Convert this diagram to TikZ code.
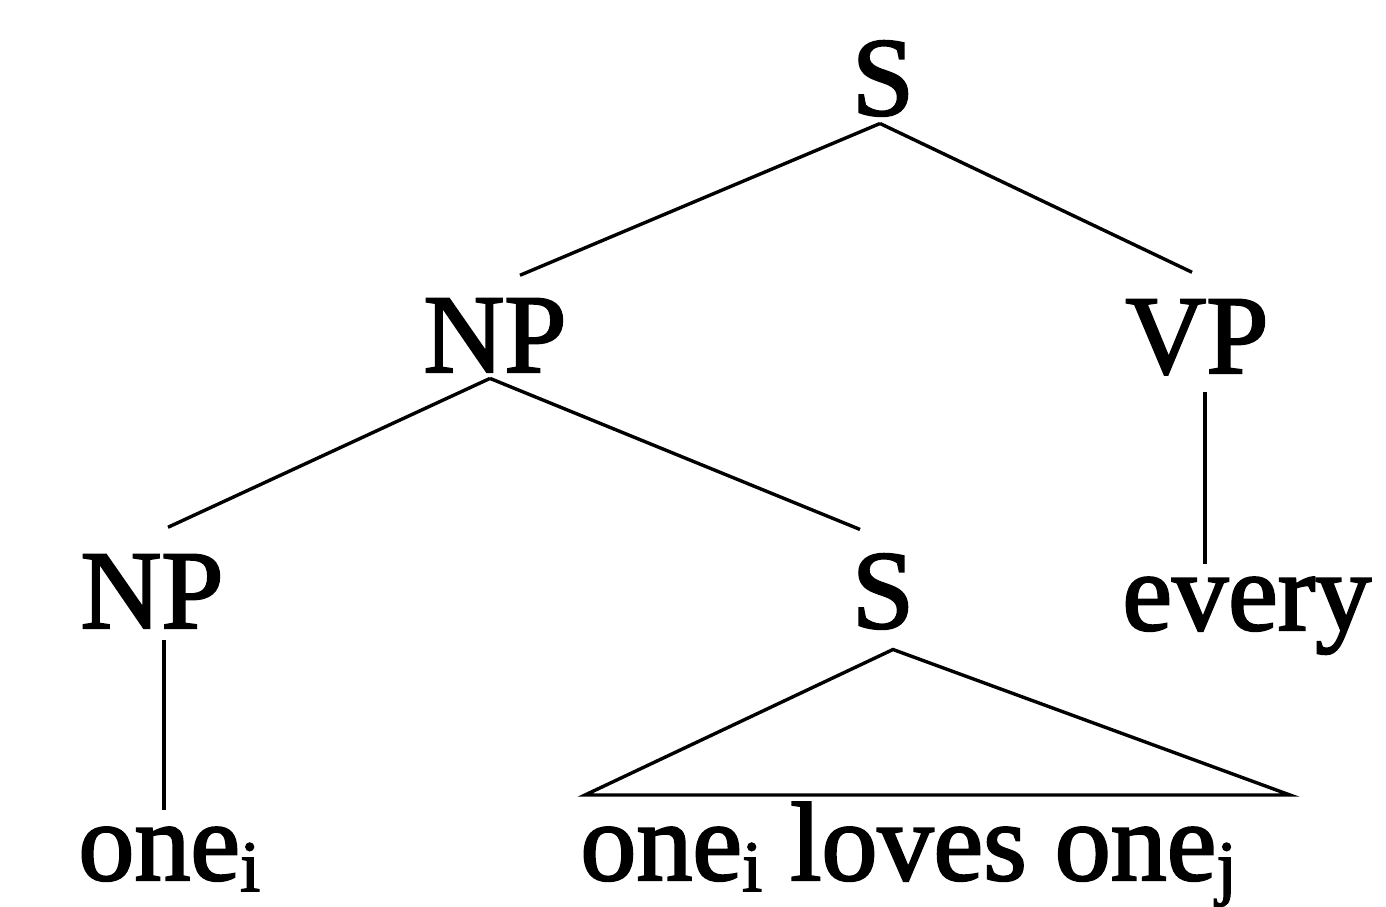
\documentclass[tikz,border=0pt]{standalone}
\usepackage{fontspec}
\setmainfont{Liberation Serif}[FakeBold=2]
\usetikzlibrary{calc}
\tikzset{
    cat/.style={inner sep=0pt, anchor=base, font=\fontsize{56}{60}\selectfont},
    word/.style={inner sep=0pt, anchor=base west, font=\fontsize{56}{60}\selectfont},
    branch/.style={line width=1.7pt}
}
\newcommand{\idx}[1]{\raisebox{-0.1em}{\scalebox{0.65}{#1}}}

\begin{document}
\begin{tikzpicture}[x=0.5pt, y=-0.5pt]
			\useasboundingbox (0,0) rectangle (1386,906);
			\node[cat] (sTop) at (883,115) {S};
			\node[cat] (npHi) at (495,372) {NP};
			\node[cat] (vp) at (1197,373) {VP};
			\node[cat] (npLo) at (152,628) {NP};
			\node[cat] (sLo) at (883,628) {S};
			\node[word] (every) at (1122,630) {every};
			\node[word] (oneA) at (78,880) {one\idx{i}};
			\node[word] (clause) at (580,880) {one\idx{i} loves one\idx{j}};
			\draw[branch] ($(sTop.south)+(-3,7)$) -- ($(npHi.north)+(25,-23)$);
			\draw[branch] ($(sTop.south)+(-3,7)$) -- ($(vp.north)+(-5,-27)$);
			\draw[branch] ($(npHi.south)+(-5,6)$) -- ($(npLo.north)+(16,-27)$);
			\draw[branch] ($(npHi.south)+(-5,6)$) -- ($(sLo.north)+(-23,-24)$);
			\draw[branch] ($(vp.south)+(8,17)$) -- ($(vp.south)+(8,189)$);
			\draw[branch] ($(npLo.south)+(12,12)$) -- ($(npLo.south)+(12,182)$);
			% triangle over the clause
			\coordinate (triL) at (585,795);
			\coordinate (triR) at (1290,795);
			\draw[branch] (triL) -- ($(sLo.south)+(10,20)$) -- (triR) -- cycle;
	\end{tikzpicture}
\end{document}
